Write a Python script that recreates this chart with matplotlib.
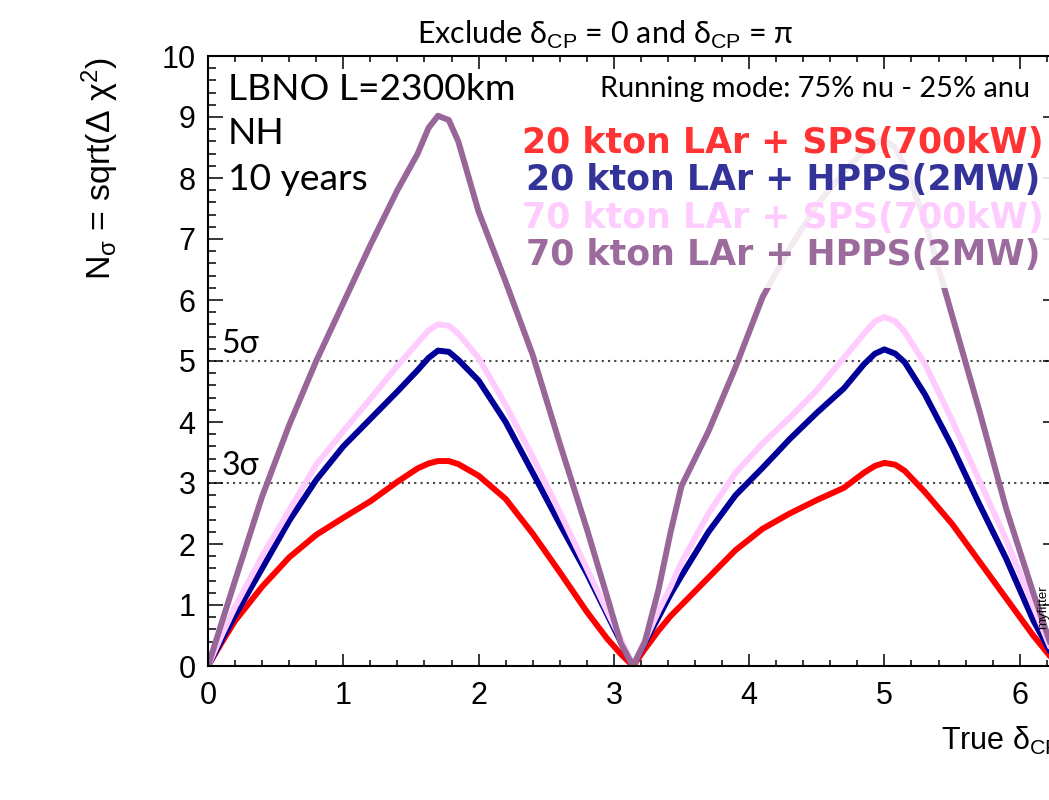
import numpy as np
import matplotlib
matplotlib.use("Agg")
import matplotlib.pyplot as plt
from matplotlib.patches import Rectangle

plt.rcParams['mathtext.fontset'] = 'custom'
plt.rcParams['mathtext.rm'] = 'Liberation Sans'
plt.rcParams['mathtext.it'] = 'Liberation Sans:italic'
plt.rcParams['mathtext.sf'] = 'Liberation Sans'

# ---------------- data ----------------
delta_cp = [0, 0.1, 0.2, 0.4, 0.6, 0.8, 1.0, 1.2, 1.4, 1.55, 1.63, 1.7, 1.78, 1.85, 2.0,
            2.2, 2.4, 2.6, 2.8, 2.95, 3.05, 3.1416, 3.23, 3.33, 3.42, 3.5, 3.7, 3.9,
            4.1, 4.3, 4.5, 4.7, 4.85, 4.93, 5.0, 5.08, 5.15, 5.3, 5.5, 5.7, 5.9, 6.1,
            6.2832]

sps_20kt = [0, 0.38, 0.74, 1.3, 1.78, 2.15, 2.43, 2.7, 3.02, 3.24, 3.32, 3.36, 3.36, 3.31, 3.12,
            2.74, 2.17, 1.54, 0.89, 0.45, 0.2, 0, 0.28, 0.58, 0.82, 1.0, 1.45, 1.9,
            2.25, 2.5, 2.72, 2.92, 3.17, 3.28, 3.33, 3.3, 3.2, 2.85, 2.33, 1.72, 1.11, 0.5,
            0]

hpps_20kt = [0, 0.42, 0.83, 1.6, 2.38, 3.05, 3.6, 4.05, 4.5, 4.85, 5.05, 5.17, 5.15, 5.02, 4.68,
             4.0, 3.17, 2.33, 1.52, 0.85, 0.4, 0, 0.38, 0.8, 1.18, 1.48, 2.2, 2.8,
             3.25, 3.72, 4.15, 4.55, 4.95, 5.12, 5.19, 5.12, 4.98, 4.45, 3.6, 2.66, 1.76, 0.75,
             0]

sps_70kt = [0, 0.5, 0.97, 1.8, 2.55, 3.3, 3.85, 4.38, 4.92, 5.3, 5.5, 5.6, 5.58, 5.45, 5.05,
            4.28, 3.43, 2.52, 1.6, 0.9, 0.45, 0, 0.42, 0.9, 1.3, 1.7, 2.5, 3.17,
            3.65, 4.07, 4.52, 5.05, 5.45, 5.65, 5.72, 5.65, 5.48, 4.95, 4.03, 3.05, 2.07, 0.98,
            0]

hpps_70kt = [0, 0.7, 1.4, 2.78, 3.95, 5.0, 5.95, 6.9, 7.8, 8.4, 8.82, 9.02, 8.95, 8.6, 7.45,
             6.3, 5.1, 3.65, 2.25, 1.14, 0.38, 0, 0.4, 1.25, 2.2, 2.95, 3.85, 4.9,
             6.05, 6.85, 7.55, 8.1, 8.45, 8.58, 8.62, 8.5, 8.2, 7.3, 5.75, 4.2, 2.58, 1.2,
             0]

series_labels = ["20 kton LAr + SPS(700kW)", "20 kton LAr + HPPS(2MW)",
                 "70 kton LAr + SPS(700kW)", "70 kton LAr + HPPS(2MW)"]
line_colors = ["#ff0000", "#000099", "#ffccff", "#996699"]
text_colors = ["#ff3333", "#333399", "#ffccff", "#9c6b9e"]
sigma_levels = [5, 3]
sigma_labels = ["5σ", "3σ"]

# ---------------- figure ----------------
W, H = 1049, 800
fig = plt.figure(figsize=(W / 100, H / 100), dpi=100)
ax = fig.add_axes([208 / W, 134 / H, 850 / W, 610 / H])

def fx(px):
    return px / W

def fy(py):
    return 1 - py / H

ax.set_xlim(0, 2 * np.pi)
ax.set_ylim(0, 10)

for lev in sigma_levels:
    ax.axhline(lev, color="#444444", lw=1.5, linestyle=(0, (1, 2)), zorder=1)

series = [sps_20kt, hpps_20kt, sps_70kt, hpps_70kt]
for vals, c in zip(series, line_colors):
    ax.plot(delta_cp, vals, color=c, lw=4.3, solid_capstyle="round",
            solid_joinstyle="round", zorder=2)

# legend backdrop (semi-opaque, as in the reference)
ax.add_patch(Rectangle((fx(515), fy(288)), 0.6, fy(118) - fy(288),
                       transform=fig.transFigure, facecolor="white", alpha=0.88,
                       edgecolor="none", zorder=3, clip_on=False))

# ticks
ax.set_xticks(range(0, 7))
ax.set_yticks(range(0, 11))
ax.set_xticks(np.arange(0, 6.3, 0.2), minor=True)
ax.set_yticks(np.arange(0, 10.01, 0.2), minor=True)
ax.tick_params(axis="both", which="both", direction="in", top=True, right=True,
               width=1.1, colors="black")
ax.tick_params(axis="x", which="major", length=9, pad=11, labelsize=22)
ax.tick_params(axis="x", which="minor", length=4.5)
ax.tick_params(axis="y", which="major", length=11, pad=9, labelsize=22)
ax.tick_params(axis="y", which="minor", length=5.5)
for lab in ax.get_xticklabels() + ax.get_yticklabels():
    lab.set_fontfamily("Liberation Sans")
for sp in ax.spines.values():
    sp.set_linewidth(1.5)

# axis titles
fig.text(fx(100), fy(57), "N$_{\\rm σ}$ = sqrt(Δ χ$^{2}$)", rotation=90,
         ha="center", va="top", fontsize=24.5, family=["Liberation Sans", "DejaVu Sans"])
fig.text(fx(1060), fy(750), "True δ$_{\\rm CP}$", ha="right", va="baseline",
         fontsize=22, family=["Liberation Sans", "DejaVu Sans"])

# title
fig.text(fx(605), fy(44), "Exclude δ$_{\\rm CP}$ = 0 and δ$_{\\rm CP}$ = π",
         ha="center", va="baseline", fontsize=22, family=["Lato", "DejaVu Sans"])

# annotations
txt_font = ["Lato", "DejaVu Sans"]
fig.text(fx(228), fy(100), "LBNO L=2300km", fontsize=26.8, family=txt_font, va="baseline")
fig.text(fx(228), fy(144), "NH", fontsize=26.8, family=txt_font, va="baseline")
fig.text(fx(228), fy(190), "10 years", fontsize=26.8, family=txt_font, va="baseline")
fig.text(fx(600), fy(97), "Running mode: 75% nu - 25% anu", fontsize=20.8,
         family=txt_font, va="baseline")

for lev, lab in zip(sigma_levels, sigma_labels):
    ax.text(0.1, lev + 0.13, lab, fontsize=23, family=txt_font, va="baseline",
            ha="left", zorder=4)

baselines = [153, 190, 228, 265]
for lab, c, b in zip(series_labels, text_colors, baselines):
    fig.text(fx(783), fy(b), lab, color=c, fontsize=25, fontweight="bold",
             family="DejaVu Sans", ha="center", va="baseline", zorder=5)

fig.text(fx(1043), fy(607), "myfitter", rotation=90, fontsize=9.5,
         family="Liberation Sans", ha="center", va="center")

fig.savefig("out.png", dpi=100)
